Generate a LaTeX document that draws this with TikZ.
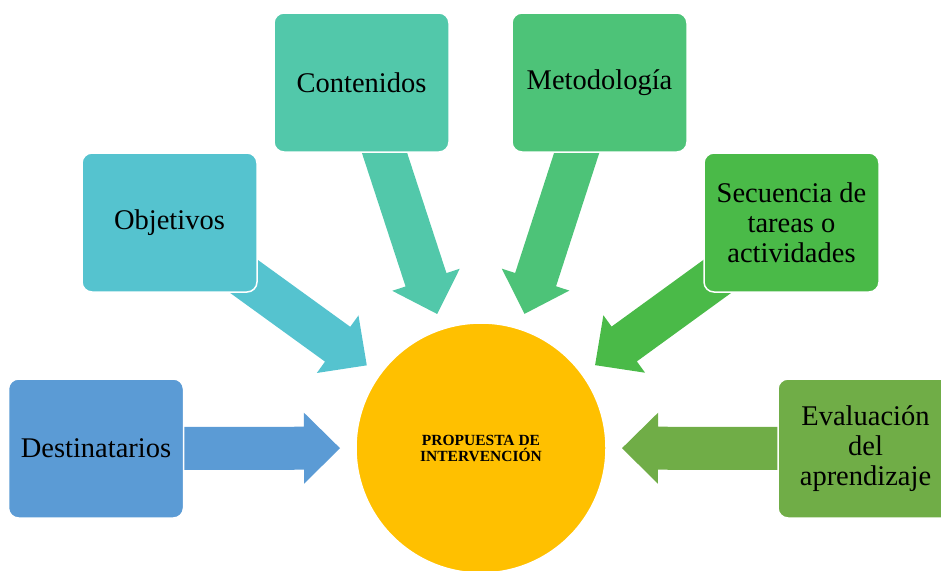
\documentclass[tikz,border=0pt]{standalone}
\usepackage{fontspec}
\setmainfont{Liberation Serif}
\usetikzlibrary{calc,backgrounds}
\definecolor{cDest}{HTML}{5B9BD5}
\definecolor{cObj}{HTML}{55C3CF}
\definecolor{cCont}{HTML}{52C8AA}
\definecolor{cMet}{HTML}{4DC378}
\definecolor{cSec}{HTML}{4ABA48}
\definecolor{cEval}{HTML}{70AD47}
\definecolor{cCore}{HTML}{FFC000}
\begin{document}
\begin{tikzpicture}[x=1pt,y=-1pt,
  box/.style={rectangle, rounded corners=10pt, minimum width=175pt, minimum height=139pt,
    draw=white, line width=1.5pt, align=center, inner sep=2pt,
    font=\fontsize{28.5}{30}\selectfont},
  core/.style={circle, minimum size=250pt, fill=cCore, draw=white, line width=1.5pt,
    align=center, font=\bfseries\fontsize{15.5}{16}\selectfont}]
\useasboundingbox (0,0) rectangle (941,570);
\node[core] (c) at (481,448) {PROPUESTA DE\\INTERVENCIÓN};
\node[box, fill=cDest] (dest) at (96,448.5) {Destinatarios};
\node[box, fill=cObj]  (obj)  at (169.5,222.5) {Objetivos};
\node[box, fill=cCont] (cont) at (361.5,82.5) {Contenidos};
\node[box, fill=cMet]  (met)  at (599.5,82.5) {Metodología};
\node[box, fill=cSec]  (sec)  at (791.5,222.5) {Secuencia de\\tareas o\\actividades};
\node[box, fill=cEval] (eval) at (865.5,448.5) {Evaluación\\del\\aprendizaje};
\begin{scope}[on background layer]
\foreach \b/\col in {dest/cDest,obj/cObj,cont/cCont,met/cMet,sec/cSec,eval/cEval}{
  \coordinate (t) at ($(c)!141pt!(\b)$);
  \coordinate (h) at ($(c)!177pt!(\b)$);
  \coordinate (e) at ($(c)!331pt!(\b)$);
  \fill[\col] ($(e)!21.5pt!90:(c)$) -- ($(h)!21.5pt!90:(c)$) -- ($(h)!35.5pt!90:(c)$)
    -- (t) -- ($(h)!35.5pt!-90:(c)$) -- ($(h)!21.5pt!-90:(c)$) -- ($(e)!21.5pt!-90:(c)$) -- cycle;
}
\end{scope}
\end{tikzpicture}
\end{document}
